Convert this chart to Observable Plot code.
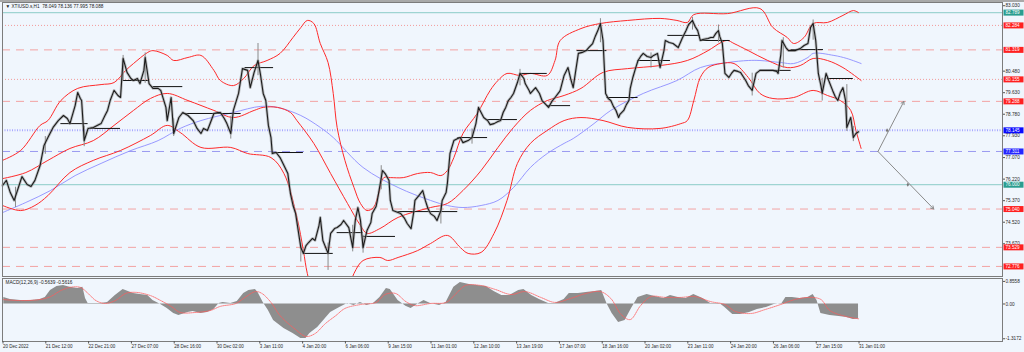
<!DOCTYPE html>
<html><head><meta charset="utf-8">
<script src="https://cdn.jsdelivr.net/npm/d3@7"></script>
<script src="https://cdn.jsdelivr.net/npm/@observablehq/plot@0.6"></script>
<style>
html,body{margin:0;padding:0;background:#f0f6fd;}
#wrap{width:1024px;height:352px;overflow:hidden;background:#f0f6fd;}
#topbar{height:2px;background:#a9a9a9;}
svg{display:block}
</style></head><body><div id="wrap"><div id="topbar"></div><div id="main"></div><div id="macd"></div></div>
<script>
// ---------- DATA (bar index = hourly bar number, price in USD) ----------
const title = "▼ XTIUSD.s,H1  78.049 78.136 77.995 78.088";
const macdTitle = "MACD(12,26,9) -0.5639 -0.5616";

const closeSeries = [[0,75.97],[3,76.17],[6,75.69],[9,75.38],[12,75.85],[15,76.32],[19,76.01],[22,75.93],[25,76.17],[29,76.76],[32,77.55],[35,77.86],[37,78.06],[39,78.26],[43,78.53],[47,78.73],[50,78.61],[52,78.41],[56,79.12],[58,79.64],[60,79.40],[61,79.32],[63,77.74],[65,78.06],[66,78.22],[70,78.26],[73,78.34],[76,78.41],[79,78.73],[81,78.93],[83,79.32],[86,79.72],[89,79.52],[91,79.44],[93,80.98],[96,80.43],[99,80.19],[101,80.11],[104,80.19],[106,79.99],[109,80.51],[110,81.02],[113,79.99],[116,79.80],[120,79.80],[122,79.72],[126,79.05],[127,78.53],[130,79.44],[132,78.02],[136,78.65],[139,78.85],[143,78.73],[147,78.53],[150,78.22],[153,78.02],[155,78.22],[158,78.14],[163,78.81],[166,78.85],[168,78.85],[171,78.61],[173,78.41],[176,78.02],[178,78.93],[182,79.60],[185,80.58],[189,80.51],[191,79.83],[194,80.43],[197,80.90],[199,80.31],[201,79.60],[203,79.32],[205,78.34],[207,77.86],[208,77.23],[211,77.27],[214,77.07],[217,76.76],[220,76.44],[222,75.65],[224,75.18],[226,74.86],[228,74.19],[230,73.52],[232,73.29],[234,73.60],[236,73.72],[239,73.88],[241,73.80],[244,74.39],[245,74.71],[247,73.80],[251,73.29],[253,74.08],[256,74.27],[258,74.31],[261,74.43],[263,74.59],[267,74.31],[270,73.52],[272,74.59],[274,75.10],[276,74.59],[278,73.52],[281,74.19],[284,74.51],[285,74.86],[288,75.14],[289,75.38],[291,75.97],[293,76.56],[295,76.44],[298,76.17],[299,75.38],[301,74.98],[305,74.90],[307,74.86],[310,74.67],[312,74.47],[315,74.27],[317,74.90],[318,75.38],[321,75.57],[324,75.77],[326,75.38],[328,75.06],[330,74.86],[333,74.75],[335,74.59],[338,74.98],[339,75.38],[342,75.69],[343,76.05],[345,77.23],[348,77.74],[351,77.82],[353,77.86],[355,77.66],[359,77.74],[361,77.82],[362,77.86],[365,78.41],[367,79.05],[369,78.85],[371,78.65],[374,78.53],[376,78.37],[379,78.41],[382,78.49],[384,78.53],[386,78.85],[388,79.05],[390,79.32],[392,79.44],[394,79.60],[397,80.03],[399,80.39],[402,80.19],[403,79.99],[406,79.72],[407,79.60],[411,79.83],[414,79.60],[416,79.32],[419,79.16],[421,79.05],[424,79.32],[426,79.44],[429,79.64],[430,79.72],[433,80.31],[436,80.62],[438,80.19],[440,79.83],[442,80.51],[444,81.18],[447,81.22],[450,81.29],[452,81.41],[455,81.57],[457,81.85],[459,82.08],[461,82.36],[463,81.69],[465,79.60],[467,79.40],[469,79.32],[471,79.09],[473,78.93],[475,78.65],[476,78.77],[479,78.93],[481,79.16],[483,79.32],[484,79.80],[486,80.23],[488,80.58],[490,80.90],[492,81.06],[494,81.18],[497,81.06],[500,81.02],[502,81.10],[505,81.18],[507,80.62],[510,81.29],[511,81.69],[514,81.61],[517,81.57],[519,81.49],[521,81.41],[524,81.77],[527,82.08],[529,82.32],[532,82.48],[534,82.24],[536,82.08],[538,81.69],[540,81.73],[544,81.77],[546,81.81],[548,81.81],[550,81.97],[552,82.08],[553,81.85],[555,81.57],[557,80.39],[560,80.23],[562,80.39],[564,80.51],[567,80.47],[569,80.43],[571,80.27],[573,80.11],[575,79.91],[578,79.72],[581,80.39],[583,80.47],[584,80.51],[588,80.51],[590,80.51],[592,80.51],[594,80.51],[597,80.47],[598,80.39],[600,81.10],[601,81.69],[604,81.41],[606,81.29],[608,81.29],[611,81.29],[615,81.37],[618,81.49],[621,81.57],[623,82.20],[625,82.36],[627,81.69],[629,80.39],[631,79.91],[632,79.60],[635,80.39],[637,80.11],[640,79.72],[642,79.48],[644,79.32],[646,79.64],[648,79.83],[650,79.32],[651,78.26],[654,78.65],[656,77.86],[658,78.02],[660,78.088]];

// notable candle wicks: [bar, low, high]
const wicks = [[10,75.10,75.90],[33,77.20,77.90],[63,77.50,78.30],[93,80.10,81.10],[110,80.00,81.20],[132,77.90,78.60],[176,77.80,78.70],[197,80.30,81.57],[230,72.95,73.70],[251,72.62,73.70],[270,73.35,74.40],[278,73.30,74.00],[292,75.80,76.75],[338,74.45,75.20],[362,77.60,78.20],[399,79.90,80.55],[461,81.60,82.55],[500,80.60,81.20],[532,82.10,82.60],[552,81.60,82.30],[578,79.50,80.40],[602,80.60,81.80],[625,81.70,82.50],[632,79.30,80.20],[651,78.10,79.95],[656,77.70,78.30]];

const upperBand = [[0,76.96],[14,77.35],[29,78.34],[35,78.53],[45,79.32],[58,79.80],[76,79.95],[86,80.03],[95,80.51],[101,80.78],[112,81.22],[116,81.29],[127,81.10],[132,80.90],[143,81.02],[153,81.10],[163,80.51],[168,80.11],[178,79.91],[186,80.19],[194,80.70],[204,80.90],[214,81.18],[224,81.81],[230,82.20],[235,82.48],[240,82.36],[245,81.57],[251,80.82],[255,79.60],[258,78.26],[264,76.96],[271,75.89],[276,75.26],[281,74.98],[286,75.10],[290,75.65],[294,76.28],[299,76.28],[309,76.28],[320,76.44],[330,76.48],[338,76.36],[343,76.56],[348,77.07],[355,78.02],[366,78.81],[376,79.72],[382,80.11],[389,80.39],[399,80.31],[407,80.39],[420,80.31],[426,80.90],[430,81.69],[446,82.16],[461,82.36],[482,82.48],[507,82.56],[520,82.48],[528,82.40],[533,82.71],[559,82.75],[584,82.95],[594,82.20],[605,81.81],[610,81.57],[618,81.81],[625,82.36],[636,82.40],[648,82.68],[656,82.87],[660,82.79]];

const middleBand = [[0,76.24],[18,76.48],[35,76.96],[52,77.43],[70,77.74],[86,78.34],[101,78.93],[114,79.40],[127,79.60],[143,79.32],[163,78.93],[178,78.65],[194,78.93],[201,79.05],[212,79.05],[222,78.85],[227,78.53],[240,77.63],[253,76.44],[266,75.26],[276,74.39],[281,74.08],[291,74.27],[305,74.71],[330,75.10],[343,75.26],[355,75.77],[369,76.56],[382,77.47],[394,78.26],[407,78.93],[420,79.32],[433,79.52],[446,79.80],[463,80.43],[482,80.58],[507,80.70],[528,80.90],[544,81.29],[554,81.61],[559,81.69],[564,81.57],[575,81.29],[590,80.90],[605,80.62],[615,80.70],[625,80.98],[636,80.90],[648,80.62],[662,80.11]];

const lowerBand = [[0,75.18],[14,74.98],[25,75.18],[35,75.57],[52,76.48],[70,76.96],[91,77.35],[114,77.94],[127,78.34],[137,78.06],[153,77.47],[176,77.47],[189,77.23],[207,77.07],[217,76.44],[227,74.71],[232,73.40],[235,72.50],[241,71.43],[249,70.84],[257,70.84],[264,71.51],[271,72.50],[278,73.01],[291,73.13],[297,73.01],[305,73.13],[320,73.40],[330,73.68],[343,74.00],[353,73.52],[359,73.29],[369,73.33],[379,74.08],[389,75.38],[397,76.84],[407,77.63],[420,78.14],[433,78.53],[446,78.65],[463,78.53],[482,78.26],[507,78.22],[523,78.41],[528,78.53],[533,79.32],[538,80.23],[544,80.62],[554,80.78],[564,80.78],[575,80.23],[584,79.60],[594,79.40],[610,79.44],[625,79.72],[636,79.52],[646,79.32],[654,78.93],[658,78.14],[662,77.43]];

const movingAverage = [[0,74.90],[18,75.30],[37,75.77],[56,76.36],[76,76.84],[99,77.35],[120,77.74],[137,78.22],[153,78.53],[178,78.85],[199,79.09],[212,79.05],[230,78.73],[245,78.26],[255,77.86],[278,76.68],[305,75.89],[330,75.38],[343,75.18],[355,75.10],[369,75.18],[382,75.38],[394,75.89],[407,76.68],[420,77.23],[433,77.63],[440,77.82],[456,78.41],[469,78.93],[494,79.60],[520,80.11],[538,80.62],[559,80.82],[575,80.90],[584,80.90],[600,80.82],[610,80.78],[621,81.02],[625,81.18],[641,81.10],[651,80.98],[662,80.78]];

// daily reference segments: [startBar, endBar, price]
const dailyLevels = [[45,66,78.41],[68,91,78.22],[93,113,80.11],[116,139,79.87],[139,184,78.81],[187,209,80.62],[209,232,77.27],[232,255,73.29],[258,278,74.11],[278,303,73.96],[305,351,74.94],[351,374,77.86],[374,397,78.57],[399,420,80.39],[420,438,79.12],[443,466,81.29],[466,490,79.44],[490,515,80.90],[513,538,81.89],[538,561,81.69],[584,608,80.51],[608,633,81.33],[636,656,80.19]];

const levelValues = [82.789, 82.284, 81.319, 80.155, 79.288, 78.145, 77.311, 76.000, 75.040, 73.529, 72.776];
const levelKinds  = ["teal","redDot","redDash","redDot","redDash","blueDot","blueDash","teal","redDash","redDash","redDash"];

const priceTicks = [83.030, 80.480, 79.630, 78.780, 77.930, 77.070, 76.220, 75.370, 74.520, 73.670];

// projection arrows (bar, price)
const projStart = [675, 77.311];
const projTargets = [[695, 79.288], [718, 75.040]];
const projMids = [[682, 78.14], [698, 76.00]];

const macdHist = [[1,0.25],[6,0.17],[14,0.13],[22,0.13],[29,0.17],[33,0.25],[37,0.51],[42,0.66],[47,0.70],[52,0.63],[58,0.59],[62,0.63],[64,0.21],[66,0.02],[76,0.02],[81,0.06],[87,0.32],[93,0.55],[97,0.47],[101,0.40],[106,0.36],[112,0.32],[116,0.13],[122,-0.02],[127,-0.17],[132,-0.36],[136,-0.44],[143,-0.32],[147,-0.28],[153,-0.36],[158,-0.32],[163,-0.21],[167,0.02],[170,0.06],[176,0.02],[181,0.09],[186,0.40],[190,0.51],[195,0.55],[197,0.44],[201,0.06],[205,-0.25],[209,-0.63],[217,-0.93],[224,-1.12],[230,-1.31],[234,-1.31],[237,-1.12],[243,-0.89],[249,-0.55],[253,-0.32],[260,-0.13],[266,0.02],[271,-0.06],[276,0.06],[281,-0.06],[286,0.02],[291,0.25],[296,0.59],[299,0.55],[305,0.13],[311,-0.09],[315,-0.17],[321,0.02],[325,0.13],[330,0.02],[337,-0.06],[342,0.06],[348,0.63],[353,0.81],[360,0.74],[366,0.70],[373,0.66],[379,0.47],[385,0.32],[391,0.32],[398,0.51],[402,0.55],[408,0.32],[414,0.17],[421,0.02],[426,0.02],[433,0.17],[437,0.40],[444,0.40],[450,0.44],[457,0.47],[462,0.51],[466,0.02],[470,-0.36],[475,-0.70],[480,-0.63],[485,-0.17],[490,0.25],[497,0.36],[503,0.28],[510,0.21],[515,0.32],[521,0.25],[527,0.21],[533,0.36],[540,0.21],[546,0.02],[553,0.02],[557,-0.13],[563,-0.40],[569,-0.40],[576,-0.32],[582,-0.21],[589,-0.13],[595,-0.02],[601,0.02],[604,0.25],[609,0.25],[615,0.21],[621,0.25],[625,0.36],[628,0.13],[631,-0.36],[638,-0.44],[645,-0.47],[651,-0.51],[656,-0.59],[660,-0.5639]];

const macdSignal = [[0,0.17],[14,0.13],[29,0.17],[37,0.28],[45,0.51],[52,0.63],[60,0.63],[66,0.40],[72,0.13],[79,0.02],[87,0.13],[95,0.40],[103,0.44],[114,0.32],[122,0.13],[130,-0.09],[137,-0.32],[149,-0.32],[160,-0.25],[168,-0.09],[180,0.02],[187,0.25],[195,0.47],[200,0.40],[207,0.06],[214,-0.44],[226,-0.97],[234,-1.23],[241,-1.12],[249,-0.74],[257,-0.44],[264,-0.17],[276,-0.02],[288,0.06],[295,0.36],[303,0.40],[311,0.09],[318,-0.06],[330,0.02],[342,0.06],[349,0.36],[357,0.70],[369,0.70],[380,0.55],[392,0.36],[403,0.47],[415,0.25],[426,0.06],[438,0.21],[450,0.40],[461,0.47],[469,0.21],[477,-0.40],[484,-0.59],[492,-0.06],[500,0.28],[511,0.25],[523,0.25],[534,0.28],[546,0.09],[557,-0.02],[565,-0.28],[577,-0.36],[588,-0.21],[600,-0.02],[611,0.17],[623,0.25],[631,0.17],[638,-0.25],[650,-0.47],[660,-0.5616]];

const macdTicks = [0.8558, 0, -1.3172];

const dateTicks = [0,33,66,99,132,165,198,231,264,297,330,363,396,429,462,495,528,561,594,627,660];
const dateLabels = ["20 Dec 2022","21 Dec 12:00","22 Dec 21:00","27 Dec 07:00","28 Dec 16:00","30 Dec 02:00","3 Jan 11:00","4 Jan 20:00","6 Jan 06:00","9 Jan 15:00","11 Jan 01:00","12 Jan 10:00","13 Jan 19:00","17 Jan 07:00","18 Jan 16:00","20 Jan 02:00","23 Jan 11:00","24 Jan 20:00","26 Jan 06:00","27 Jan 15:00","31 Jan 01:00"];

// ---------- STYLE ----------
const FONT = "'Liberation Sans', Arial, sans-serif";
const X_DOMAIN = [0, 771];
const levelStyle = {
  teal:     {stroke: "#9ed4d2", width: 1.3, dash: null, box: "#2a9d8f"},
  redDot:   {stroke: "#f29a9a", width: 1,   dash: "1,2", box: "#ff2020"},
  redDash:  {stroke: "#f3a3a3", width: 1,   dash: "8,6", box: "#ff2020"},
  blueDot:  {stroke: "#a9a9ff", width: 2,   dash: "1,1.5", box: "#0a0aff"},
  blueDash: {stroke: "#9a9af0", width: 1,   dash: "8,6", box: "#2424ff"}
};
const levels = levelValues.map((v, i) => ({v, kind: levelKinds[i]}));
const boxSymbol = {draw(ctx) { ctx.rect(1, -3, 20, 6); }};

const xy = {x: d => d[0], y: d => d[1]};
const axisOpts = {anchor: "right", label: null, tickSize: 2, tickPadding: 1, tickFormat: d => d.toFixed(3), stroke: "#555"};

const levelMarks = Object.keys(levelStyle).map(k => {
  const s = levelStyle[k];
  return Plot.ruleY(levels.filter(d => d.kind === k), {y: "v", stroke: s.stroke, strokeWidth: s.width, strokeDasharray: s.dash ?? undefined});
});

const main = Plot.plot({
  width: 1024, height: 275,
  marginTop: 0, marginBottom: 1, marginLeft: 2, marginRight: 22,
  x: {domain: X_DOMAIN, axis: null, label: null},
  y: {domain: [72.379, 83.188], axis: null, label: null},
  color: {type: "identity"},
  style: {background: "transparent", fontSize: "4.7px", fontFamily: FONT, color: "#2a2a2a"},
  marks: [
    ...levelMarks,
    Plot.line(movingAverage, {...xy, stroke: "#8d8dff", strokeWidth: 0.9, curve: "catmull-rom", clip: true}),
    Plot.line(upperBand, {...xy, stroke: "#ff2a2a", strokeWidth: 1, curve: "catmull-rom", clip: true}),
    Plot.line(middleBand, {...xy, stroke: "#ff2a2a", strokeWidth: 1, curve: "catmull-rom", clip: true}),
    Plot.line(lowerBand, {...xy, stroke: "#ff2a2a", strokeWidth: 1, curve: "catmull-rom", clip: true}),
    Plot.ruleY(dailyLevels, {x1: d => d[0], x2: d => d[1], y: d => d[2], stroke: "#111", strokeWidth: 1}),
    Plot.ruleX(wicks, {x: d => d[0], y1: d => d[1], y2: d => d[2], stroke: "#8a8a8a", strokeWidth: 1}),
    Plot.line(closeSeries, {...xy, stroke: "#8f8f8f", strokeWidth: 2.8, strokeOpacity: 0.55}),
    Plot.line(closeSeries, {...xy, stroke: "#1c1c1c", strokeWidth: 1.1}),
    Plot.arrow(projTargets, {x1: () => projStart[0], y1: () => projStart[1], x2: d => d[0], y2: d => d[1], stroke: "#8a8a8a", strokeWidth: 1, headLength: 5}),
    Plot.dot(projMids, {...xy, r: 1.3, fill: "#777", symbol: "diamond"}),
    Plot.frame({stroke: "#7c7c7c"}),
    Plot.axisY(priceTicks.slice(0, 1), {...axisOpts, dy: -0.8}),
    Plot.axisY(priceTicks.slice(1), axisOpts),
    Plot.dot(levels, {y: "v", frameAnchor: "right", symbol: boxSymbol, r: 4, fill: d => levelStyle[d.kind].box, stroke: null}),
    Plot.text(levels, {y: "v", frameAnchor: "right", dx: 3, textAnchor: "start", text: d => d.v.toFixed(3), fill: "white", fontSize: 4.6}),
    Plot.text([title], {frameAnchor: "top-left", dx: 3, dy: 2.5, text: d => d, fill: "#222", fontSize: 4.7})
  ]
});
document.getElementById("main").append(main);

const macd = Plot.plot({
  width: 1024, height: 75,
  marginTop: 1, marginBottom: 11, marginLeft: 2, marginRight: 22,
  x: {domain: X_DOMAIN, axis: null, label: null},
  y: {domain: [-1.421, 0.966], axis: null, label: null},
  style: {background: "transparent", fontSize: "4.7px", fontFamily: FONT, color: "#2a2a2a"},
  marks: [
    Plot.areaY(macdHist, {x: d => d[0], y: d => d[1], fill: "#8e8e8e"}),
    Plot.line(macdSignal, {...xy, stroke: "#ff5c5c", strokeWidth: 0.8, strokeDasharray: "1,1", curve: "catmull-rom"}),
    Plot.frame({stroke: "#7c7c7c"}),
    Plot.axisY(macdTicks, {anchor: "right", label: null, tickSize: 2, tickPadding: 1, tickFormat: d => d === 0 ? "0.00" : String(d), stroke: "#555"}),
    Plot.axisX(dateTicks, {anchor: "bottom", label: null, tickSize: 2.5, tickPadding: 1, textAnchor: "start", dx: 0.5, fontSize: 4.5, stroke: "#555", tickFormat: d => dateLabels[dateTicks.indexOf(d)]}),
    Plot.text([macdTitle], {frameAnchor: "top-left", dx: 3, dy: 2.5, text: d => d, fill: "#222", fontSize: 4.7})
  ]
});
document.getElementById("macd").append(macd);
</script></body></html>
